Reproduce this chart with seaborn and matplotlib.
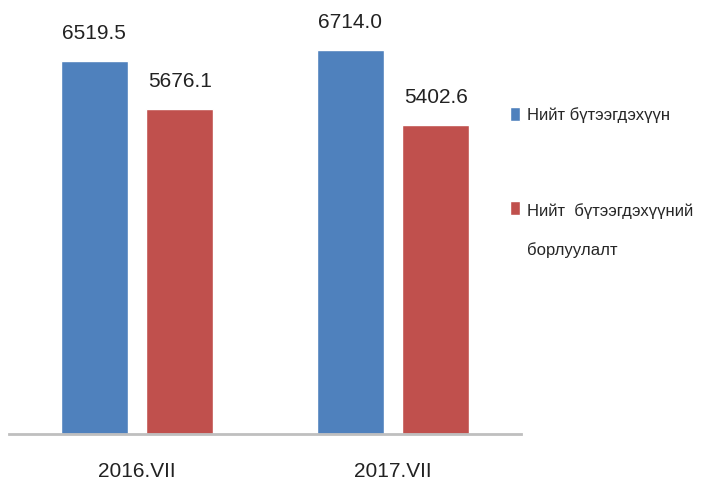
import matplotlib
matplotlib.use("Agg")
import matplotlib.pyplot as plt
import pandas as pd
import seaborn as sns

periods = ["2016.VII", "2017.VII"]
series = ["Нийт бүтээгдэхүүн", "Нийт  бүтээгдэхүүний\nборлуулалт"]
production = [6519.5, 6714.0]
sales = [5676.1, 5402.6]
colors = ["#4F81BD", "#C0504D"]

df = pd.DataFrame({
    "period": periods * 2,
    "series": [series[0]] * 2 + [series[1]] * 2,
    "value": production + sales,
})

sns.set_style("white")
plt.rcParams["font.family"] = ["Liberation Sans", "DejaVu Sans"]

fig = plt.figure(figsize=(7.1, 4.88), dpi=100)
ax = fig.add_axes([9 / 710, 1 - 434 / 488, 512 / 710, 434 / 488])

sns.barplot(data=df, x="period", y="value", hue="series", palette=colors,
            saturation=1, width=0.668, gap=0.216, ax=ax, legend=True)

for cont in ax.containers:
    ax.bar_label(cont, fmt="%.1f", padding=13, fontsize=15, color="#222222")

ax.set_xlim(-0.5, 1.5)
ax.set_ylim(0, 7587)
ax.set_xlabel("")
ax.set_ylabel("")
ax.set_yticks([])
ax.tick_params(axis="x", length=0, labelsize=15, pad=20, colors="#222222")
for side in ["top", "right", "left"]:
    ax.spines[side].set_visible(False)
ax.spines["bottom"].set_color("#BFBFBF")
ax.spines["bottom"].set_linewidth(2)

handles, labels = ax.get_legend_handles_labels()
leg = ax.legend(handles, labels, loc="upper left", bbox_to_anchor=(495 / 710, 1 - 92 / 488),
                bbox_transform=fig.transFigure, frameon=False, fontsize=12,
                handlelength=0.6, handleheight=0.9, handletextpad=0.4, labelspacing=4.8)
leg.get_texts()[1].set_linespacing(2.85)
# line the red square up with the first line of its two-line label
red_box = leg.legend_handles[1]
red_box.set_y(red_box.get_y() + 16.5)

fig.savefig("out.png", dpi=100)
